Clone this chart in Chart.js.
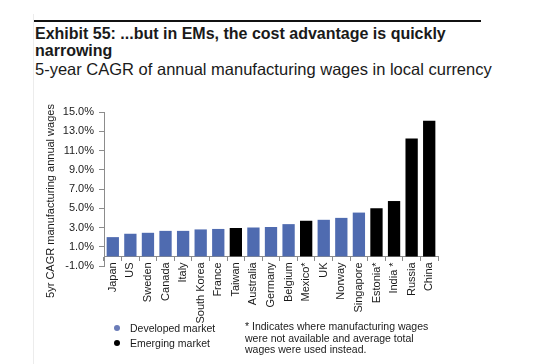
<!DOCTYPE html>
<html>
<head>
<meta charset="utf-8">
<script src="https://cdn.jsdelivr.net/npm/chart.js@4.4.1/dist/chart.umd.min.js"></script>
<style>
  html, body { margin: 0; padding: 0; background: #fff; }
  body { width: 558px; height: 364px; position: relative; overflow: hidden;
         font-family: "Liberation Sans", Arial, sans-serif; color: #1a1a1a; }
  #wrap { position: absolute; left: 0; top: 0; width: 558px; height: 364px; }
  .edge { position: absolute; left: 33px; top: 14px; width: 1px; height: 350px; background: #ececec; }
  .rule { position: absolute; left: 34px; top: 20px; width: 447px; height: 2px; background: #111; }
  .title { position: absolute; left: 35px; top: 25px; font-size: 16px; font-weight: bold; line-height: 17px; }
  .sub { position: absolute; left: 35px; top: 61px; font-size: 16.5px; line-height: 17px; white-space: nowrap; }
  .leg { position: absolute; left: 114px; font-size: 10.5px; line-height: 12px; }
  .leg i { display: inline-block; width: 6px; height: 6px; border-radius: 50%; margin-right: 10px; vertical-align: 1px; }
  .note { position: absolute; left: 245px; top: 321px; font-size: 10.5px; line-height: 11.5px; }
</style>
</head>
<body>
<div class="edge"></div>
<div class="rule"></div>
<div class="title">Exhibit 55: ...but in EMs, the cost advantage is quickly<br>narrowing</div>
<div class="sub">5-year CAGR of annual manufacturing wages in local currency</div>
<div id="wrap"><canvas id="c" width="558" height="364"></canvas></div>
<div class="leg" style="top:322px"><i style="background:#6a7cb8"></i>Developed market</div>
<div class="leg" style="top:337px"><i style="background:#000"></i>Emerging market</div>
<div class="note">* Indicates where manufacturing wages<br>were not available and average total<br>wages were used instead.</div>
<script>
const countries = ["Japan", "US", "Sweden", "Canada", "Italy", "South Korea", "France", "Taiwan",
  "Australia", "Germany", "Belgium", "Mexico*", "UK", "Norway", "Singapore", "Estonia*", "India *",
  "Russia", "China"];
const wageCagr = [2.0, 2.35, 2.45, 2.65, 2.65, 2.8, 2.85, 2.95, 3.0, 3.05, 3.35, 3.7, 3.8, 4.0,
  4.55, 5.0, 5.75, 12.25, 14.1];
const market = ["D", "D", "D", "D", "D", "D", "D", "E", "D", "D", "D", "E", "D", "D", "D", "E", "E", "E", "E"];
const yTicks = [-1, 1, 3, 5, 7, 9, 11, 13, 15];
const yTitle = "5yr CAGR manufacturing annual wages";

const font = { family: "'Liberation Sans', Arial, sans-serif", size: 11 };
const axisGrey = "#8c8c8c";

const yTitlePlugin = {
  id: "yTitle",
  afterDraw(chart) {
    const ctx = chart.ctx;
    ctx.save();
    ctx.translate(51, 201);
    ctx.rotate(-Math.PI / 2);
    ctx.font = "11px 'Liberation Sans', Arial, sans-serif";
    ctx.fillStyle = "#1a1a1a";
    ctx.textAlign = "center";
    ctx.textBaseline = "middle";
    ctx.fillText(yTitle, 0, 0);
    ctx.restore();
  },
};

new Chart(document.getElementById("c"), {
  type: "bar",
  data: {
    labels: countries,
    datasets: [
      {
        data: wageCagr,
        backgroundColor: market.map((m) => (m === "E" ? "#000000" : "#4f6bb0")),
        barPercentage: 0.7,
        categoryPercentage: 1,
      },
    ],
  },
  options: {
    responsive: false,
    animation: false,
    events: [],
    layout: { padding: { left: 0, top: 112, right: 120, bottom: 98 } },
    plugins: { legend: { display: false }, tooltip: { enabled: false } },
    scales: {
      x: {
        position: { y: 0 },
        grid: { display: true, drawOnChartArea: false, drawTicks: true, tickLength: 4, color: axisGrey },
        border: { display: true, color: axisGrey, width: 1 },
        ticks: { font, color: "#1a1a1a", minRotation: 90, maxRotation: 90, padding: 2, autoSkip: false },
      },
      y: {
        min: -1,
        max: 15,
        afterBuildTicks: (s) => { s.ticks = yTicks.map((v) => ({ value: v })); },
        afterFit: (s) => { s.width = 104; },
        grid: { display: true, drawOnChartArea: false, drawTicks: true, tickLength: 5, color: axisGrey },
        border: { display: true, color: axisGrey, width: 1 },
        ticks: { font, color: "#1a1a1a", padding: 5, callback: (v) => v.toFixed(1) + "%" },
      },
    },
  },
  plugins: [yTitlePlugin],
});
</script>
</body>
</html>
